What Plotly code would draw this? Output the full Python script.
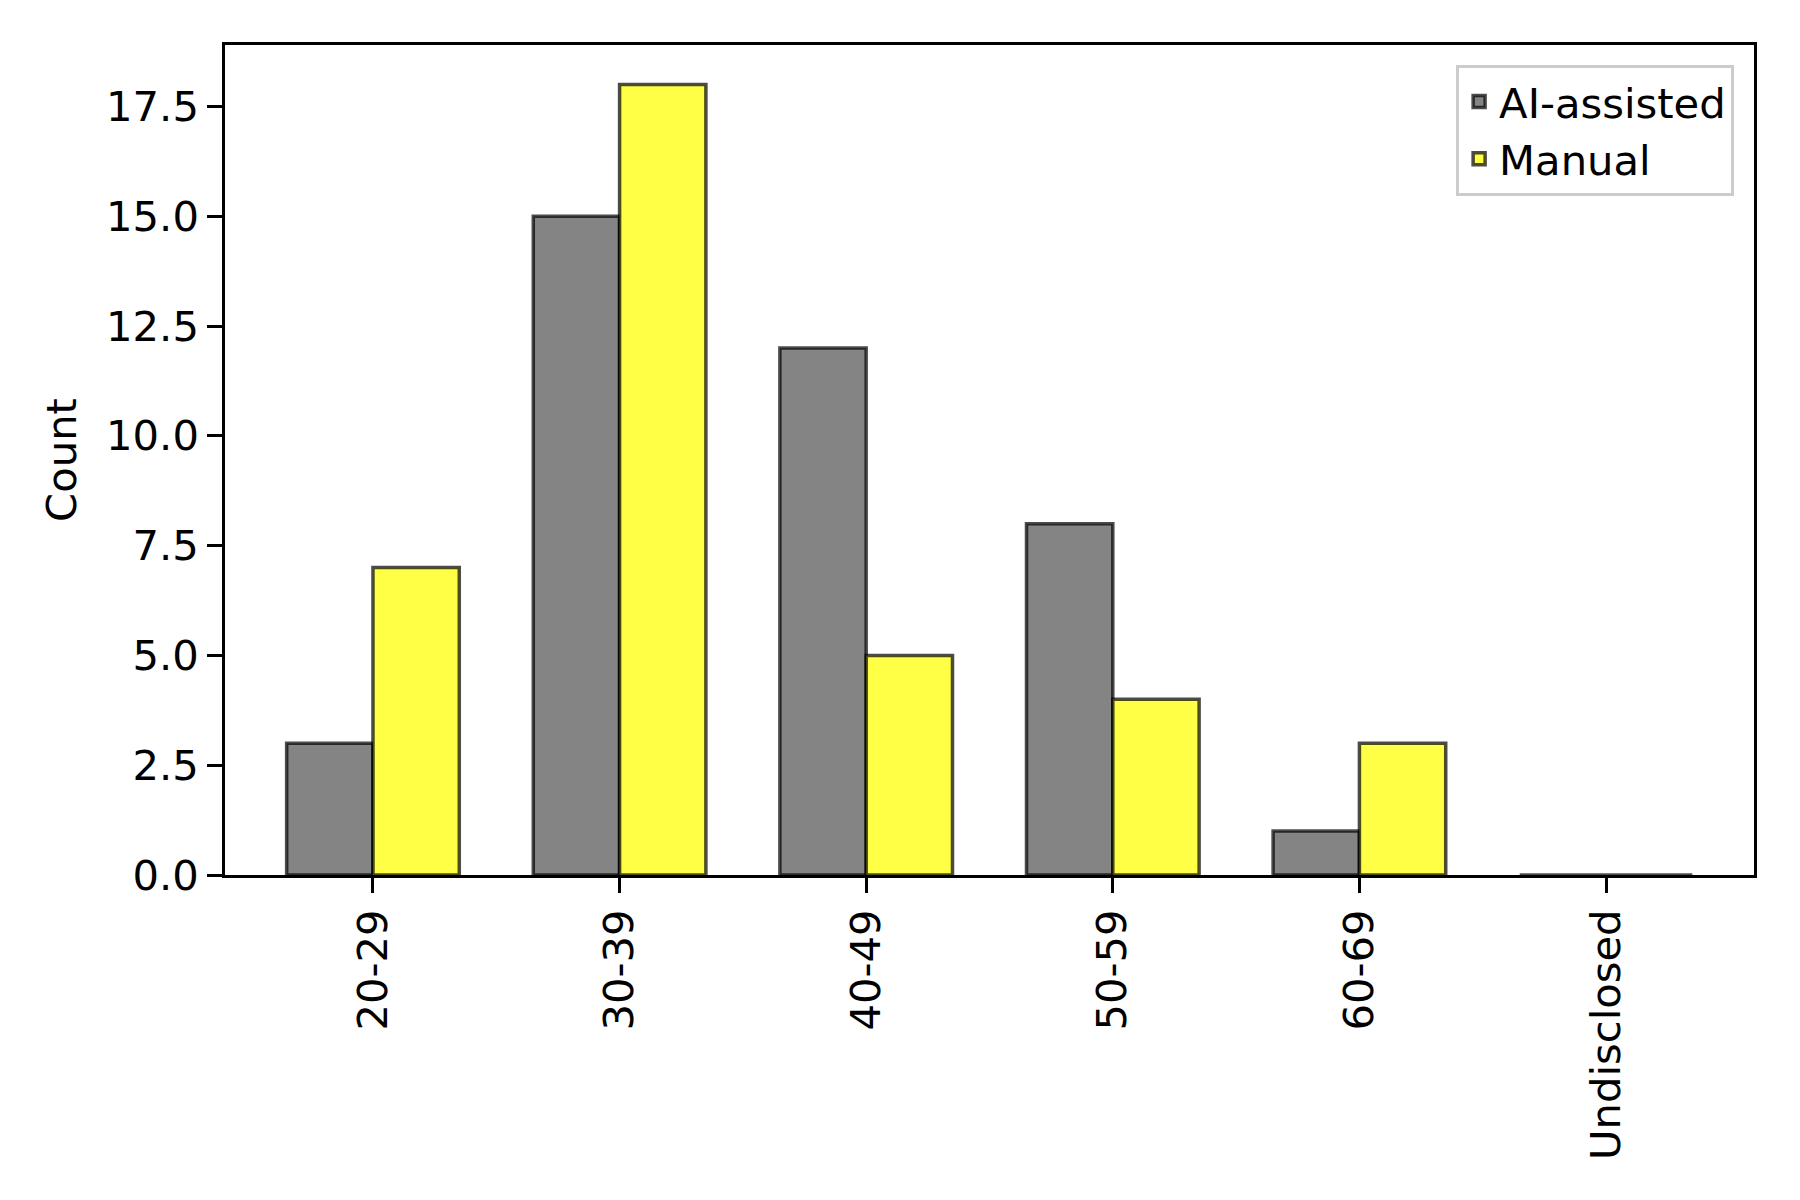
import plotly.graph_objects as go

categories = ["20-29", "30-39", "40-49", "50-59", "60-69", "Undisclosed"]
ai_assisted = [3, 15, 12, 8, 1, 0]
manual = [7, 18, 5, 4, 3, 0]
y_ticks = [0, 2.5, 5, 7.5, 10, 12.5, 15, 17.5]

FONT = "DejaVu Sans"
FS = 41.7

fig = go.Figure()
fig.add_trace(go.Bar(
    x=categories, y=ai_assisted, name="AI-assisted",
    marker=dict(color="rgba(128,128,128,0.97)", line=dict(color="rgba(0,0,0,0.7)", width=3.5)),
))
fig.add_trace(go.Bar(
    x=categories, y=manual, name="Manual",
    marker=dict(color="rgba(255,255,64,0.97)", line=dict(color="rgba(0,0,0,0.7)", width=3.5)),
))

fig.update_layout(
    width=1800, height=1200,
    margin=dict(l=217, r=54, t=37, b=333),
    paper_bgcolor="white", plot_bgcolor="white",
    barmode="group", bargap=0.3, bargroupgap=0,
    font=dict(family=FONT, size=FS, color="black"),
    showlegend=True,
    legend=dict(
        x=0.987, y=0.976, xanchor="right", yanchor="top",
        bgcolor="rgba(255,255,255,0.8)", bordercolor="#cccccc", borderwidth=3,
        font=dict(family=FONT, size=FS, color="black"),
        tracegroupgap=10,
    ),
)
fig.update_xaxes(
    range=[-0.6, 5.6], showline=True, linecolor="black", linewidth=3.3, mirror=True,
    ticks="outside", ticklen=14.6, tickwidth=3.3, tickcolor="black",
    tickangle=-90, showgrid=False, zeroline=False,
    tickfont=dict(family=FONT, size=FS, color="black"),
)
fig.update_yaxes(
    range=[0, 18.9], showline=True, linecolor="black", linewidth=3.3, mirror=True,
    ticks="outside", ticklen=14.6, tickwidth=3.3, tickcolor="black",
    tickvals=y_ticks, ticktext=[f"{v:.1f}" for v in y_ticks],
    showgrid=False, zeroline=False,
    title=dict(text="Count", font=dict(family=FONT, size=FS, color="black"), standoff=17),
    tickfont=dict(family=FONT, size=FS, color="black"),
)

fig.write_html("out.html")
